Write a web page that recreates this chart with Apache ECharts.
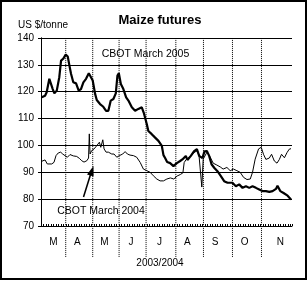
<!DOCTYPE html>
<html>
<head>
<meta charset="utf-8">
<script src="https://cdn.jsdelivr.net/npm/echarts@6/dist/echarts.min.js"></script>
<style>
  html, body { margin: 0; padding: 0; background: #fff; }
  #chart { width: 308px; height: 281px; }
</style>
</head>
<body>
<div id="chart"></div>
<script>
// x = trading day index from early March 2003 (0) to end of November (199)
var monthStarts = [19.6, 41.0, 61.9, 83.3, 106.9, 128.8, 151.8, 174.8];
var monthLabelPos = [9.8, 28.8, 50.2, 71.4, 93.9, 116.1, 138.1, 161.4, 189.7];
var monthLabels = ['M', 'A', 'M', 'J', 'J', 'A', 'S', 'O', 'N'];
var yTicks = [70, 80, 90, 100, 110, 120, 130, 140];

// CBOT March 2005 (thick line)
var days2005 = [0.6, 3.2, 4.5, 6.6, 7.9, 9.3, 10.6, 12.5, 14.5, 15.9, 17.7, 19.6, 21.2, 22.5, 23.8, 25.6, 27.8, 29.9,
  31.7, 33.6, 35.7, 37.9, 39.4, 41.0, 42.9, 44.2, 46.8, 49.4, 51.6, 53.4, 55.3, 57.4, 59.3, 60.6, 61.7, 63.3,
  65.3, 67.5, 69.3, 72.0, 74.6, 77.2, 79.9, 81.7, 83.9, 85.1, 87.8, 90.5, 93.1, 95.8, 97.1, 98.4, 100.0, 102.4,
  105.0, 107.7, 110.3, 112.1, 114.8, 116.1, 118.8, 121.4, 123.6, 125.4, 128.0, 129.6, 131.5, 133.3, 135.2, 137.3,
  139.9, 142.6, 145.2, 147.9, 151.8, 154.5, 157.1, 159.8, 162.5, 165.1, 167.7, 170.4, 173.0, 175.6, 178.3, 181.0,
  183.6, 186.3, 187.5, 189.7, 192.3, 195.5, 198.2];
var price2005 = [117.9, 118.5, 119.8, 124.8, 124.2, 121.0, 119.4, 120.4, 125.4, 131.6, 132.3, 133.8, 133.1, 129.8, 126.7, 123.5, 123.1, 120.4,
  121.0, 123.5, 124.8, 126.9, 126.7, 124.2, 119.2, 116.9, 115.4, 114.4, 112.9, 112.9, 116.7, 117.3, 119.4, 126.0, 126.9, 122.9,
  121.0, 117.9, 116.7, 114.2, 112.9, 113.6, 114.2, 111.8, 107.9, 105.4, 104.2, 102.9, 101.7, 99.8, 96.4, 95.3, 93.8, 93.4,
  92.3, 93.4, 94.2, 94.8, 96.1, 94.6, 96.1, 97.9, 98.6, 96.1, 95.3, 97.8, 97.9, 96.1, 93.0, 91.7,
  90.4, 88.6, 86.7, 86.1, 86.1, 84.8, 85.5, 84.2, 84.8, 84.2, 84.8, 84.2, 83.6, 83.0, 83.0, 82.7,
  83.0, 83.8, 85.0, 83.0, 82.3, 81.3, 79.9];

// CBOT March 2004 (thin line)
var days2004 = [0.6, 3.2, 5.0, 8.5, 10.3, 11.9, 13.7, 15.6, 17.2, 19.0, 20.9, 23.0, 25.6, 28.3, 30.4, 32.3, 34.1, 36.3,
  37.7, 38.3, 38.9, 40.2, 42.1, 44.2, 46.3, 47.4, 49.0, 50.0, 51.6, 53.4, 56.1, 57.9, 60.1, 62.1, 64.8, 66.7,
  68.5, 70.6, 73.3, 75.9, 78.6, 81.2, 83.9, 86.5, 89.1, 91.8, 94.4, 97.1, 99.8, 102.6, 105.3, 107.9, 110.6, 112.5,
  113.5, 115.1, 117.2, 119.3, 121.2, 123.3, 125.2, 126.6, 127.5, 128.6, 131.7, 134.1, 136.5, 139.4, 142.1, 144.4,
  147.4, 150.0, 152.6, 155.3, 157.9, 160.6, 163.3, 165.9, 167.7, 169.8, 172.5, 174.6, 176.4, 178.3, 181.0, 182.8,
  185.0, 187.1, 189.0, 190.7, 193.0, 195.0, 196.8, 198.2];
var price2004 = [94.1, 94.6, 93.1, 93.1, 93.7, 96.2, 97.2, 97.5, 96.8, 96.2, 95.6, 96.6, 96.1, 95.9, 95.2, 94.3, 93.8, 94.3,
  95.3, 104.3, 96.8, 98.1, 98.7, 99.9, 101.2, 99.3, 102.1, 98.7, 97.5, 97.5, 96.8, 96.8, 95.6, 96.2, 96.8, 97.7,
  96.8, 96.4, 96.2, 95.6, 93.7, 91.2, 90.6, 90.0, 88.7, 87.5, 86.8, 86.8, 87.5, 87.9, 87.5, 88.6, 89.2, 89.8,
  93.6, 94.8, 95.4, 96.4, 97.3, 97.9, 96.7, 96.7, 84.5, 94.9, 97.6, 95.7, 93.4, 92.7, 92.0, 91.2,
  91.8, 90.6, 91.2, 90.6, 90.0, 88.1, 87.3, 87.5, 90.0, 94.9, 98.7, 99.3, 96.7, 94.8, 95.3, 96.7,
  94.2, 93.4, 94.8, 96.7, 95.4, 97.3, 98.6, 98.8];

function zip(xs, ys) {
  var out = [];
  xs.forEach(function (x, i) { out.push([x, ys[i]]); });
  return out;
}

var FONT = 'Liberation Sans, Arial, sans-serif';

// month separators, one short line series per boundary, from the plot top down into the label row
var separators = monthStarts.map(function (d, i) {
  return {
    name: 'sep' + i, type: 'line', xAxisIndex: 0, yAxisIndex: 0, clip: false, silent: true,
    showSymbol: false, symbol: 'none', z: 5,
    lineStyle: { color: '#000', width: 1, type: [1, 1] },
    data: [[d, 58.5], [d, 140]]
  };
});

var myChart = echarts.init(document.getElementById('chart'));
myChart.setOption({
  animation: false,
  backgroundColor: '#fff',
  grid: { left: 41, right: 16, top: 38, bottom: 55, containLabel: false },
  xAxis: [
    {
      // data axis, dense ticks on the baseline
      type: 'value', min: 0, max: 199, interval: 2, position: 'bottom',
      axisLine: { show: true, onZero: false, lineStyle: { color: '#000', width: 1 } },
      axisTick: { show: true, inside: true, length: 2, lineStyle: { color: '#000' } },
      axisLabel: { show: false },
      splitLine: { show: false }
    },
    {
      // month letters
      type: 'value', min: 0, max: 199, position: 'bottom',
      axisLine: { show: false, onZero: false },
      axisTick: { show: false },
      splitLine: { show: false },
      axisLabel: {
        show: true, customValues: monthLabelPos, margin: 11,
        color: '#000', fontSize: 10, fontFamily: FONT,
        formatter: function (val) {
          for (var i = 0; i < monthLabelPos.length; i++) {
            if (Math.abs(monthLabelPos[i] - val) < 0.01) return monthLabels[i];
          }
          return '';
        }
      }
    }
  ],
  yAxis: [
    {
      type: 'value', min: yTicks[0], max: yTicks[yTicks.length - 1], interval: 10,
      axisLine: { show: true, lineStyle: { color: '#000' } },
      axisTick: { show: true, length: 3, lineStyle: { color: '#000' } },
      axisLabel: { color: '#000', fontSize: 10, fontFamily: FONT, margin: 7 },
      splitLine: { show: true, lineStyle: { color: '#000', width: 1 } }
    },
    {
      type: 'value', min: 70, max: 140, position: 'right',
      axisLine: { show: true, lineStyle: { color: '#000' } },
      axisTick: { show: false },
      axisLabel: { show: false },
      splitLine: { show: false }
    }
  ],
  series: separators.concat([
    {
      name: 'CBOT March 2004', type: 'line', xAxisIndex: 0, yAxisIndex: 0,
      data: zip(days2004, price2004), showSymbol: false, symbol: 'none',
      lineStyle: { color: '#000', width: 1 }, z: 6
    },
    {
      name: 'CBOT March 2005', type: 'line', xAxisIndex: 0, yAxisIndex: 0,
      data: zip(days2005, price2005), showSymbol: false, symbol: 'none',
      lineStyle: { color: '#000', width: 2.2 }, z: 7
    }
  ]),
  graphic: [
    { type: 'rect', shape: { x: 1, y: 1, width: 305, height: 278 }, style: { fill: 'none', stroke: '#000', lineWidth: 2 }, silent: true },
    { type: 'text', x: 160, y: 20, style: { text: 'Maize futures', fill: '#000', font: 'bold 13px ' + FONT, textAlign: 'center', textVerticalAlign: 'middle' } },
    { type: 'text', x: 18, y: 25, style: { text: 'US $/tonne', fill: '#000', font: '10px ' + FONT, textAlign: 'left', textVerticalAlign: 'middle' } },
    { type: 'text', x: 145.5, y: 54, style: { text: 'CBOT March 2005', fill: '#000', font: '10.5px ' + FONT, textAlign: 'center', textVerticalAlign: 'middle' } },
    { type: 'text', x: 101, y: 211, style: { text: 'CBOT March 2004', fill: '#000', font: '10.5px ' + FONT, textAlign: 'center', textVerticalAlign: 'middle' } },
    { type: 'text', x: 160, y: 263, style: { text: '2003/2004', fill: '#000', font: '10px ' + FONT, textAlign: 'center', textVerticalAlign: 'middle' } },
    { type: 'line', shape: { x1: 83.5, y1: 197, x2: 91, y2: 173 }, style: { stroke: '#000', lineWidth: 1.5 }, z: 10 },
    { type: 'polygon', shape: { points: [[93.5, 166], [93.6, 176.6], [87.0, 174.4]] }, style: { fill: '#000' }, z: 10 }
  ]
});
</script>
</body>
</html>
